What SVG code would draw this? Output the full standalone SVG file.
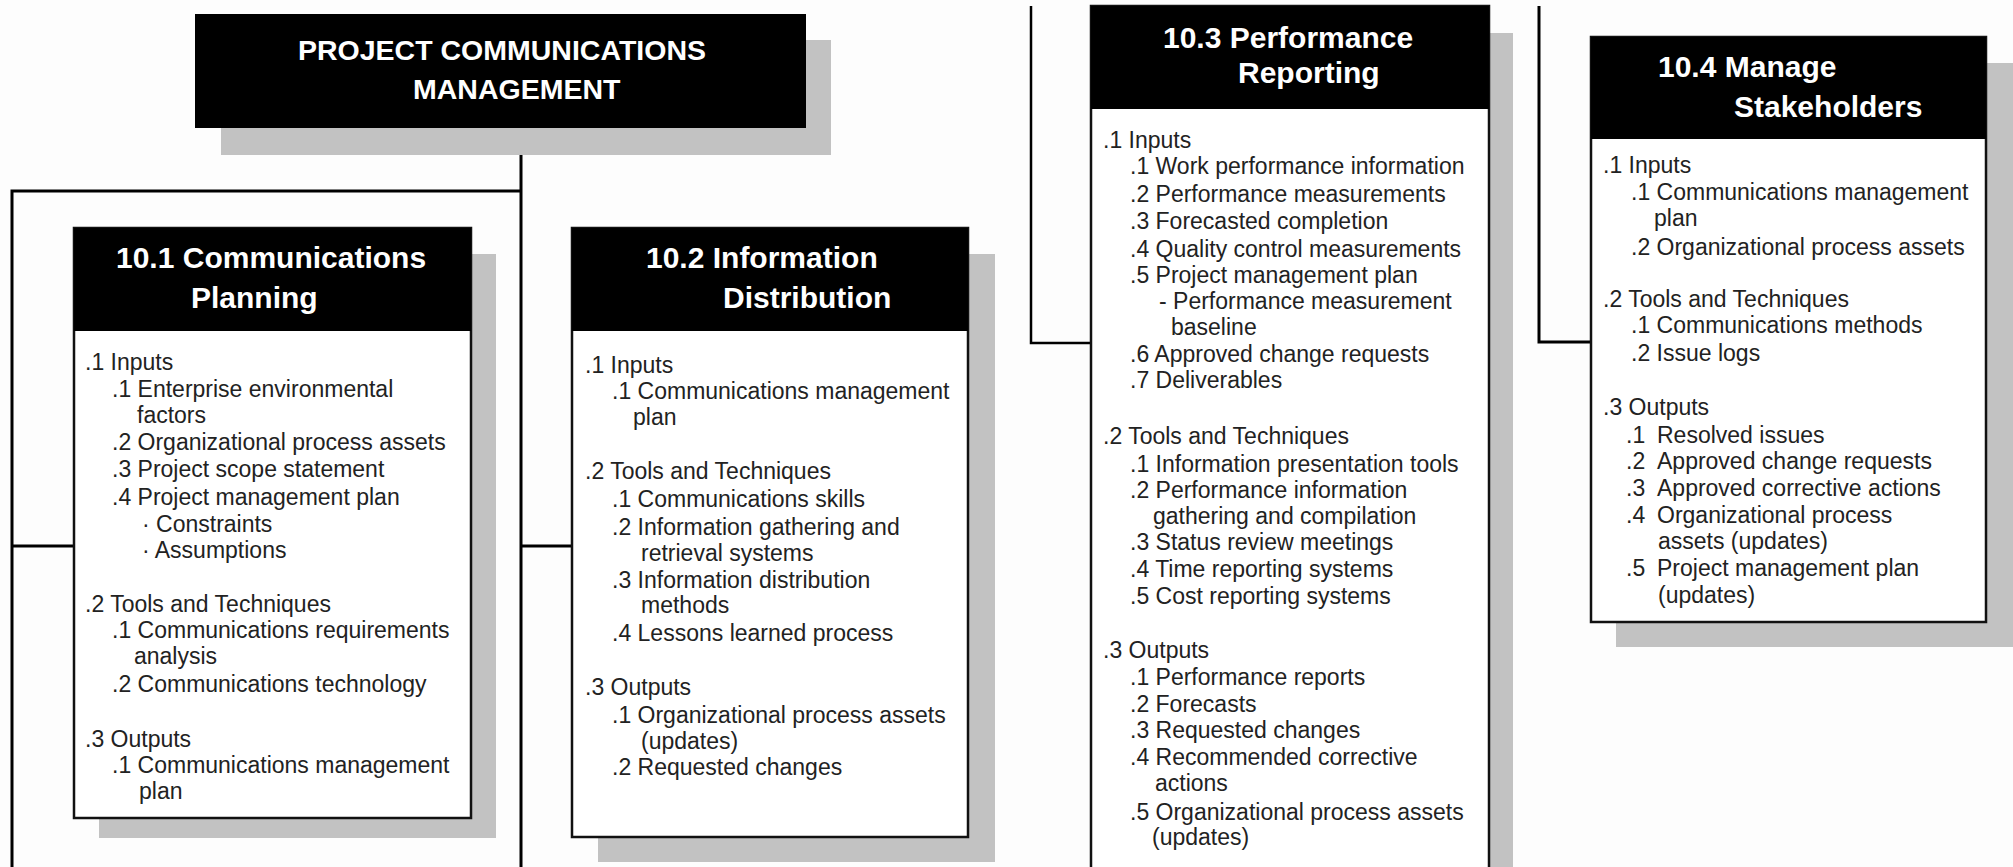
<svg xmlns="http://www.w3.org/2000/svg" width="2013" height="867" viewBox="0 0 2013 867">
<style>
.bg{fill:#fdfdfd}
.sh{fill:#c2c2c2}
.hd{fill:#000}
.bd{fill:#fff;stroke:#111;stroke-width:2.5}
.ht{font-family:"Liberation Sans",Arial,sans-serif;font-weight:bold;font-size:30px;fill:#fff}
.tt{font-family:"Liberation Sans",Arial,sans-serif;font-weight:bold;font-size:28.5px;fill:#fff}
.t{font-family:"Liberation Sans",Arial,sans-serif;font-size:23px;fill:#222}
.cn{fill:none;stroke:#000;stroke-width:3}
</style>
<rect class="bg" x="0" y="0" width="2013" height="867"/>
<g id="connectors">
<path class="cn" d="M521,128 V867"/>
<path class="cn" d="M521,191 H12 V867"/>
<path class="cn" d="M12,546 H74"/>
<path class="cn" d="M521,546 H572"/>
<path class="cn" d="M1031,6 V343 H1091" style="stroke-width:2.5"/>
<path class="cn" d="M1539,6 V342 H1591"/>
</g>
<g id="node-root">
<rect class="sh" x="221" y="40" width="610" height="115"/>
<rect class="hd" x="195" y="14" width="611" height="114"/>
<text class="tt" x="298" y="60">PROJECT COMMUNICATIONS</text>
<text class="tt" x="413" y="99">MANAGEMENT</text>
</g>
<g id="node-10-1">
<rect class="sh" x="99" y="254" width="397" height="584"/>
<rect class="bd" x="74" y="228" width="397" height="590"/>
<rect class="hd" x="74" y="228" width="397" height="103"/>
<text class="ht" x="116" y="268">10.1 Communications</text>
<text class="ht" x="191" y="308">Planning</text>
<text class="t" x="85" y="370">.1 Inputs</text>
<text class="t" x="112" y="397">.1 Enterprise environmental</text>
<text class="t" x="137" y="423">factors</text>
<text class="t" x="112" y="450">.2 Organizational process assets</text>
<text class="t" x="112" y="477">.3 Project scope statement</text>
<text class="t" x="112" y="505">.4 Project management plan</text>
<text class="t" x="142" y="532">· Constraints</text>
<text class="t" x="142" y="558">· Assumptions</text>
<text class="t" x="85" y="612">.2 Tools and Techniques</text>
<text class="t" x="112" y="638">.1 Communications requirements</text>
<text class="t" x="134" y="664">analysis</text>
<text class="t" x="112" y="692">.2 Communications technology</text>
<text class="t" x="85" y="747">.3 Outputs</text>
<text class="t" x="112" y="773">.1 Communications management</text>
<text class="t" x="139" y="799">plan</text>
</g>
<g id="node-10-2">
<rect class="sh" x="598" y="254" width="397" height="608"/>
<rect class="bd" x="572" y="228" width="396" height="609"/>
<rect class="hd" x="572" y="228" width="396" height="103"/>
<text class="ht" x="646" y="268">10.2 Information</text>
<text class="ht" x="723" y="308">Distribution</text>
<text class="t" x="585" y="373">.1 Inputs</text>
<text class="t" x="612" y="399">.1 Communications management</text>
<text class="t" x="633" y="425">plan</text>
<text class="t" x="585" y="479">.2 Tools and Techniques</text>
<text class="t" x="612" y="507">.1 Communications skills</text>
<text class="t" x="612" y="535">.2 Information gathering and</text>
<text class="t" x="641" y="561">retrieval systems</text>
<text class="t" x="612" y="588">.3 Information distribution</text>
<text class="t" x="641" y="613">methods</text>
<text class="t" x="612" y="641">.4 Lessons learned process</text>
<text class="t" x="585" y="695">.3 Outputs</text>
<text class="t" x="612" y="723">.1 Organizational process assets</text>
<text class="t" x="641" y="749">(updates)</text>
<text class="t" x="612" y="775">.2 Requested changes</text>
</g>
<g id="node-10-3">
<rect class="sh" x="1116" y="33" width="397" height="840"/>
<rect class="bd" x="1091" y="6" width="398" height="870"/>
<rect class="hd" x="1091" y="6" width="398" height="103"/>
<text class="ht" x="1163" y="48">10.3 Performance</text>
<text class="ht" x="1238" y="83">Reporting</text>
<text class="t" x="1103" y="148">.1 Inputs</text>
<text class="t" x="1130" y="174">.1 Work performance information</text>
<text class="t" x="1130" y="202">.2 Performance measurements</text>
<text class="t" x="1130" y="229">.3 Forecasted completion</text>
<text class="t" x="1130" y="257">.4 Quality control measurements</text>
<text class="t" x="1130" y="283">.5 Project management plan</text>
<text class="t" x="1159" y="309">- Performance measurement</text>
<text class="t" x="1171" y="335">baseline</text>
<text class="t" x="1130" y="362">.6 Approved change requests</text>
<text class="t" x="1130" y="388">.7 Deliverables</text>
<text class="t" x="1103" y="444">.2 Tools and Techniques</text>
<text class="t" x="1130" y="472">.1 Information presentation tools</text>
<text class="t" x="1130" y="498">.2 Performance information</text>
<text class="t" x="1153" y="524">gathering and compilation</text>
<text class="t" x="1130" y="550">.3 Status review meetings</text>
<text class="t" x="1130" y="577">.4 Time reporting systems</text>
<text class="t" x="1130" y="604">.5 Cost reporting systems</text>
<text class="t" x="1103" y="658">.3 Outputs</text>
<text class="t" x="1130" y="685">.1 Performance reports</text>
<text class="t" x="1130" y="712">.2 Forecasts</text>
<text class="t" x="1130" y="738">.3 Requested changes</text>
<text class="t" x="1130" y="765">.4 Recommended corrective</text>
<text class="t" x="1155" y="791">actions</text>
<text class="t" x="1130" y="820">.5 Organizational process assets</text>
<text class="t" x="1152" y="845">(updates)</text>
</g>
<g id="node-10-4">
<rect class="sh" x="1616" y="63" width="400" height="584"/>
<rect class="bd" x="1591" y="37" width="395" height="585"/>
<rect class="hd" x="1591" y="37" width="395" height="102"/>
<text class="ht" x="1658" y="77">10.4 Manage</text>
<text class="ht" x="1734" y="117">Stakeholders</text>
<text class="t" x="1603" y="173">.1 Inputs</text>
<text class="t" x="1631" y="200">.1 Communications management</text>
<text class="t" x="1654" y="226">plan</text>
<text class="t" x="1631" y="255">.2 Organizational process assets</text>
<text class="t" x="1603" y="307">.2 Tools and Techniques</text>
<text class="t" x="1631" y="333">.1 Communications methods</text>
<text class="t" x="1631" y="361">.2 Issue logs</text>
<text class="t" x="1603" y="415">.3 Outputs</text>
<text class="t" x="1626" y="443">.1</text><text class="t" x="1657" y="443">Resolved issues</text>
<text class="t" x="1626" y="469">.2</text><text class="t" x="1657" y="469">Approved change requests</text>
<text class="t" x="1626" y="496">.3</text><text class="t" x="1657" y="496">Approved corrective actions</text>
<text class="t" x="1626" y="523">.4</text><text class="t" x="1657" y="523">Organizational process</text>
<text class="t" x="1658" y="549">assets (updates)</text>
<text class="t" x="1626" y="576">.5</text><text class="t" x="1657" y="576">Project management plan</text>
<text class="t" x="1658" y="603">(updates)</text>
</g>
</svg>
